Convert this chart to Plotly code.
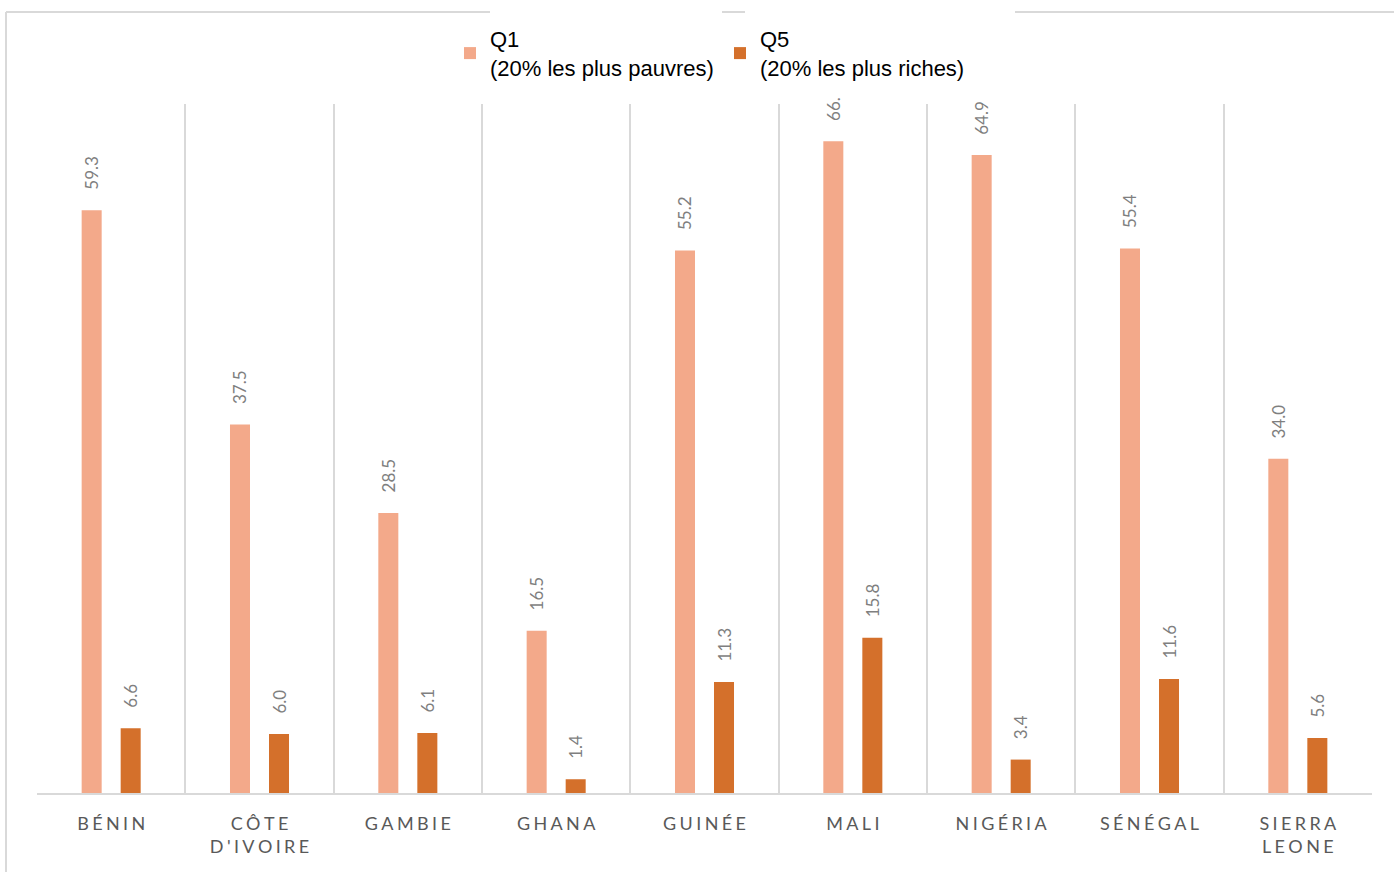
import plotly.graph_objects as go

# Country categories (uppercase, letter-spaced on the axis)
countries = ["BÉNIN", "CÔTE<br>D'IVOIRE", "GAMBIE", "GHANA", "GUINÉE",
             "MALI", "NIGÉRIA", "SÉNÉGAL", "SIERRA<br>LEONE"]
q1_values = [59.3, 37.5, 28.5, 16.5, 55.2, 66.3, 64.9, 55.4, 34.0]
q5_values = [6.6, 6.0, 6.1, 1.4, 11.3, 15.8, 3.4, 11.6, 5.6]
series_names = ["Q1<br>(20% les plus pauvres)", "Q5<br>(20% les plus riches)"]
colors = ["#F3A98A", "#D4702B"]

W, H = 1394, 872
ML, MR, MT, MB = 37, 22, 104, 79
Y_MAX = 70.1
LABEL_ROOM = 69.0  # labels reaching above this get cut to fit the frame


def spaced(label):
    """Add letter spacing between characters of each line."""
    sp = "\u2009\u200a"
    return "<br>".join(sp.join(list(line)) for line in label.split("<br>"))


def fit_label(v):
    """Format a value; trim trailing characters when the label runs out of room."""
    s = f"{v:.1f}"
    if v > LABEL_ROOM - 3:
        s = s[:-1]
    return s


x_labels = [spaced(c) for c in countries]
pad = "\u00a0" * 4

fig = go.Figure()
for name, vals, col in zip(series_names, [q1_values, q5_values], colors):
    fig.add_trace(go.Bar(
        x=x_labels, y=vals, name=name,
        marker=dict(color=col, line=dict(width=0)),
        text=[pad + fit_label(v) for v in vals],
        textposition="outside", textangle=-90, constraintext="none",
        cliponaxis=False,
        textfont=dict(family="Lato", size=17, color="#7F7F7F"),
        hoverinfo="skip",
    ))

# Chart frame (partly hidden behind the legend entries)
fx = lambda px: (px - ML) / (W - ML - MR)
fy = lambda py: (H - MB - py) / (H - MT - MB)
frame_col = "#D9D9D9"
for x0, x1 in [(6, 490), (722, 745), (1015, 1394)]:
    fig.add_shape(type="line", xref="paper", yref="paper",
                  x0=fx(x0), x1=fx(x1), y0=fy(12), y1=fy(12),
                  line=dict(color=frame_col, width=2))
fig.add_shape(type="line", xref="paper", yref="paper",
              x0=fx(6), x1=fx(6), y0=fy(12), y1=fy(H),
              line=dict(color=frame_col, width=2))

fig.update_layout(
    width=W, height=H,
    margin=dict(l=ML, r=MR, t=MT, b=MB),
    paper_bgcolor="white", plot_bgcolor="white",
    barmode="group", bargap=0.474, bargroupgap=0.487,
    showlegend=True,
    legend=dict(orientation="h", x=fx(450), y=fy(18), xanchor="left", yanchor="top",
                font=dict(family="Liberation Sans", size=22, color="#000000"),
                entrywidth=225, entrywidthmode="pixels", itemclick=False,
                bgcolor="rgba(0,0,0,0)"),
    xaxis=dict(tickson="boundaries", showgrid=True, gridcolor="#D9D9D9", gridwidth=1.5,
               showline=True, linecolor="#D9D9D9", linewidth=2,
               ticks="", ticklabelstandoff=13,
               tickfont=dict(family="Lato", size=18, color="#595959"),
               fixedrange=True),
    yaxis=dict(range=[0, Y_MAX], showgrid=False, showticklabels=False,
               zeroline=False, showline=False, fixedrange=True),
)

fig.write_html("out.html")
